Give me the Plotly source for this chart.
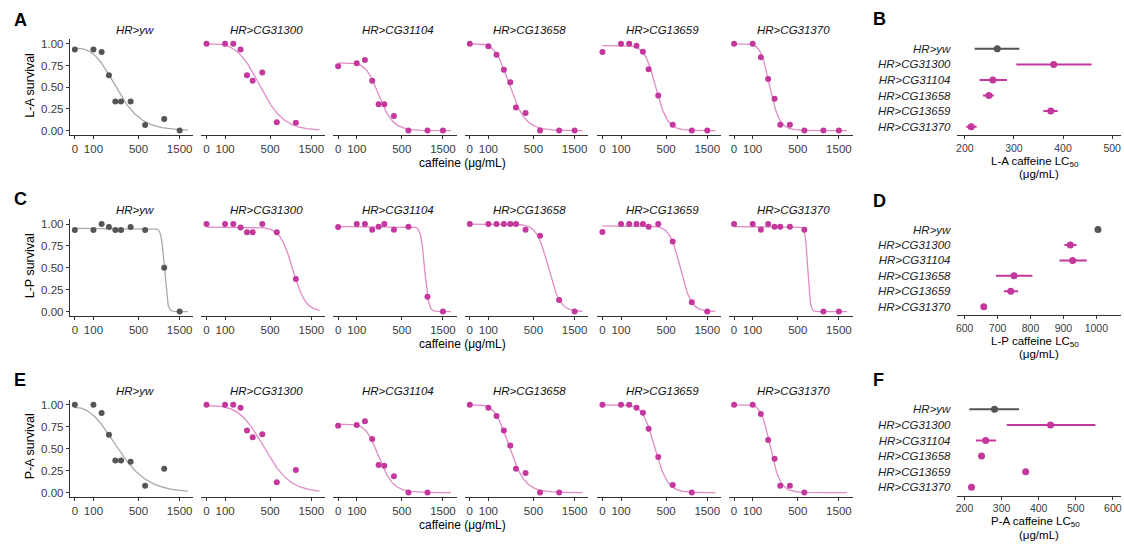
import numpy as np
import plotly.graph_objects as go

W, H = 1124, 548
FONT = "Liberation Sans"

# ---------------- data ----------------
doses = [0, 100, 150, 200, 250, 300, 400, 600, 1000, 1500]
genotypes = ["HR>yw", "HR>CG31300", "HR>CG31104", "HR>CG13658", "HR>CG13659", "HR>CG31370"]
assays = ["L-A", "L-P", "P-A"]

# survival fractions (None = no point shown)
la_surv = [
    [0.935, 0.935, 0.905, 0.637, 0.336, 0.336, 0.336, 0.065, 0.134, 0.0],
    [1.0, 1.0, 1.0, 0.935, 0.637, 0.573, 0.668, 0.095, 0.092, None],
    [0.74, 0.775, 0.813, 0.573, 0.305, 0.305, 0.168, 0.0, 0.0, 0.0],
    [1.0, 0.973, 0.874, 0.702, 0.557, 0.267, 0.202, 0.0, 0.0, 0.0],
    [0.905, 1.0, 1.0, 0.977, 0.908, 0.706, 0.405, 0.069, 0.0, 0.0],
    [1.0, 1.0, 0.844, 0.595, 0.366, 0.069, 0.069, 0.0, 0.0, 0.0],
]
lp_surv = [
    [0.932, 0.932, 1.0, 0.966, 0.932, 0.932, 0.966, 0.932, 0.5, 0.0],
    [1.0, 1.0, 1.0, 0.962, 0.905, 0.905, 1.0, 0.905, 0.371, None],
    [0.966, 1.0, 1.0, 0.936, 0.97, 1.0, 0.936, 0.97, 0.17, 0.0],
    [1.0, 1.0, 1.0, 1.0, 1.0, 1.0, 0.936, 0.867, 0.133, 0.0],
    [0.909, 1.0, 1.0, 1.0, 1.0, 0.97, 1.0, 0.8, 0.106, 0.0],
    [1.0, 1.0, 0.936, 1.0, 0.97, 0.97, 0.97, 0.936, 0.0, 0.0],
]
pa_surv = [
    [1.0, 1.0, 0.906, 0.66, 0.366, 0.366, 0.351, 0.079, 0.272, None],
    [1.0, 1.0, 1.0, 0.966, 0.706, 0.63, 0.664, 0.117, 0.257, None],
    [0.762, 0.77, 0.811, 0.611, 0.313, 0.306, 0.185, 0.0, 0.0, None],
    [1.0, 0.966, 0.872, 0.706, 0.536, 0.272, 0.223, 0.0, 0.0, None],
    [1.0, 1.0, 1.0, 0.966, 0.909, 0.728, 0.404, 0.087, 0.0, None],
    [1.0, 1.0, 0.894, 0.6, 0.385, 0.079, 0.079, 0.0, None, None],
]

# LC50 estimates with confidence limits (ug/mL)
la_lc50 = [266, 381, 257, 249, 375, 213]
la_lo = [220, 305, 230, 237, 360, 203]
la_hi = [311, 458, 286, 259, 389, 224]
lp_lc50 = [1005, 921, 928, 750, 740, 658]
lp_lo = [1000, 903, 888, 695, 719, 651]
lp_hi = [1010, 940, 971, 806, 762, 666]
pa_lc50 = [281, 432, 257, 246, 365, 219]
pa_lo = [213, 314, 231, 237, 360, 211]
pa_hi = [347, 553, 285, 255, 370, 227]

# fitted log-logistic curve parameters (upper asymptote, Hill slope)
la_top = [0.95, 1.0, 0.78, 1.0, 0.98, 1.0]
la_hill = [2.6, 3.0, 4.5, 4.0, 6.0, 6.0]
lp_top = [0.95, 0.965, 0.97, 1.0, 0.98, 0.97]
lp_hill = [25, 6.0, 20, 6.5, 7.0, 30]
pa_top = [0.97, 0.99, 0.78, 1.0, 1.0, 1.0]
pa_hill = [2.2, 2.8, 4.5, 4.0, 5.5, 6.0]

surv_all = [la_surv, lp_surv, pa_surv]
lc50_all = [la_lc50, lp_lc50, pa_lc50]
lo_all = [la_lo, lp_lo, pa_lo]
hi_all = [la_hi, lp_hi, pa_hi]
top_all = [la_top, lp_top, pa_top]
hill_all = [la_hill, lp_hill, pa_hill]

x_ticks = [0, 100, 500, 1500]
y_ticks = [0, 0.25, 0.5, 0.75, 1.0]
rb_ticks = [[200, 300, 400, 500], [600, 700, 800, 900, 1000], [200, 300, 400, 500, 600]]
rb_ranges = [[185, 518], [578, 1075], [181, 622]]

# ---------------- styling / layout ----------------
GRAY_PT = "#555555"
GRAY_LN = "#a9a9a9"
MAG_PT = "#c4379c"
MAG_LN = "#e08cc8"
AX = "#333333"
TICKC = "#3a3a3a"
TICKFS = 11.5


def tr(v):
    return np.arcsinh(np.asarray(v, dtype=float) / 200.0)


panel_x0 = [68, 200, 332, 464, 597, 729]
PW = 124
row_y = [(134.7, 37.8), (316.7, 219.0), (498.7, 400.7)]  # bottom, top (px)
right_y = [(135, 38.7), (316, 220.4), (497.5, 401.2)]
RX0, RX1 = 958, 1122

fig = go.Figure()
layout = dict(
    width=W, height=H, margin=dict(l=0, r=0, t=0, b=0),
    paper_bgcolor="white", plot_bgcolor="white", showlegend=False,
    font=dict(family=FONT, size=11, color="black"),
)
annotations = []


def pxx(p):
    return p / W


def pxy(p):
    return 1 - p / H


xc = np.linspace(0, 1850, 400)

for r in range(3):
    yb, yt = row_y[r]
    for c in range(6):
        k = r * 7 + c + 1
        xn = "x" if k == 1 else f"x{k}"
        yn = "y" if k == 1 else f"y{k}"
        is_ctrl = c == 0
        ptc = GRAY_PT if is_ctrl else MAG_PT
        lnc = GRAY_LN if is_ctrl else MAG_LN
        top, hill, lc = top_all[r][c], hill_all[r][c], lc50_all[r][c]
        yc = top / (1 + (xc / lc) ** hill)
        fig.add_trace(go.Scatter(x=tr(xc), y=yc, mode="lines",
                                 line=dict(color=lnc, width=1.3),
                                 xaxis=xn, yaxis=yn, hoverinfo="skip"))
        sv = surv_all[r][c]
        dx = [d for d, s in zip(doses, sv) if s is not None]
        dy = [s for s in sv if s is not None]
        fig.add_trace(go.Scatter(x=tr(dx), y=dy, mode="markers",
                                 marker=dict(color=ptc, size=6),
                                 xaxis=xn, yaxis=yn))
        x0 = panel_x0[c]
        layout[f"xaxis{k}"] = dict(
            domain=[pxx(x0), pxx(x0 + PW)], anchor=yn, range=[-0.13, 3.07],
            showline=True, linecolor=AX, linewidth=1.1, ticks="outside",
            ticklen=3, tickcolor=AX, tickwidth=1.1, showgrid=False, zeroline=False,
            tickvals=list(tr(x_ticks)), ticktext=[str(t) for t in x_ticks],
            tickfont=dict(family=FONT, size=TICKFS, color=TICKC),
        )
        ydict = dict(domain=[pxy(yb), pxy(yt)], anchor=xn, range=[-0.05, 1.06],
                     showgrid=False, zeroline=False)
        if is_ctrl:
            ydict.update(showline=True, linecolor=AX, linewidth=1.1, ticks="outside",
                         ticklen=3, tickcolor=AX, tickwidth=1.1,
                         tickvals=y_ticks, ticktext=[f"{t:.2f}" for t in y_ticks],
                         tickfont=dict(family=FONT, size=TICKFS, color=TICKC))
        else:
            ydict.update(showline=False, showticklabels=False, ticks="")
        layout[f"yaxis{k}"] = ydict
        # panel title
        annotations.append(dict(
            text=genotypes[c], x=pxx(x0 + PW / 2 + 3), y=pxy(yt - 8.5),
            xref="paper", yref="paper", showarrow=False, xanchor="center", yanchor="middle",
            font=dict(family=FONT, size=11.5, style="italic", weight="normal", color="#111111")))

    # y-axis title
    annotations.append(dict(
        text=f"{assays[r]} survival", x=pxx(28), y=pxy((yb + yt) / 2 - 2),
        xref="paper", yref="paper", showarrow=False, textangle=-90,
        xanchor="center", yanchor="middle", font=dict(family=FONT, size=12.5)))
    # x-axis title
    annotations.append(dict(
        text="caffeine (μg/mL)", x=pxx(461.5), y=pxy(yb + 28),
        xref="paper", yref="paper", showarrow=False,
        xanchor="center", yanchor="middle", font=dict(family=FONT, size=12)))

    # right LC50 panel
    k = r * 7 + 7
    xn, yn = f"x{k}", f"y{k}"
    ybr, ytr = right_y[r]
    ypos = [6, 5, 4, 3, 2, 1]
    for i in range(6):
        col = GRAY_PT if i == 0 else MAG_PT
        fig.add_trace(go.Scatter(x=[lo_all[r][i], hi_all[r][i]], y=[ypos[i], ypos[i]],
                                 mode="lines", line=dict(color=col, width=2),
                                 xaxis=xn, yaxis=yn, hoverinfo="skip"))
        fig.add_trace(go.Scatter(x=[lc50_all[r][i]], y=[ypos[i]], mode="markers",
                                 marker=dict(color=col, size=7),
                                 xaxis=xn, yaxis=yn))
    layout[f"xaxis{k}"] = dict(
        domain=[pxx(RX0), pxx(RX1)], anchor=yn, range=rb_ranges[r],
        showline=True, linecolor=AX, linewidth=1.1, ticks="outside",
        ticklen=3, tickcolor=AX, tickwidth=1.1, showgrid=False, zeroline=False,
        tickvals=rb_ticks[r], ticktext=[str(t) for t in rb_ticks[r]],
        tickfont=dict(family=FONT, size=10.5, color=TICKC))
    layout[f"yaxis{k}"] = dict(
        domain=[pxy(ybr), pxy(ytr)], anchor=xn, range=[0.45, 6.6],
        showline=False, ticks="", showgrid=False, zeroline=False,
        tickvals=ypos, ticktext=genotypes, ticklabelstandoff=6,
        tickfont=dict(family=FONT, size=11.5, style="italic", weight="normal", color="#222222"))
    annotations.append(dict(
        text=f"{assays[r]} caffeine LC<sub>50</sub>", x=pxx(1036), y=pxy(ybr + 26.5),
        xref="paper", yref="paper", showarrow=False,
        xanchor="center", yanchor="middle", font=dict(family=FONT, size=11.5)))
    annotations.append(dict(
        text="(μg/mL)", x=pxx(1040), y=pxy(ybr + 39),
        xref="paper", yref="paper", showarrow=False,
        xanchor="center", yanchor="middle", font=dict(family=FONT, size=11.5)))

# panel letters
letters = [("A", 18.5, 19), ("C", 18.5, 199), ("E", 18, 381.5),
           ("B", 880, 18.5), ("D", 880, 201), ("F", 879, 381.5)]
for t, x, y in letters:
    annotations.append(dict(text=t, x=pxx(x), y=pxy(y), xref="paper", yref="paper",
                            showarrow=False, xanchor="center", yanchor="middle",
                            font=dict(family=FONT, size=18, weight="bold", color="black")))

layout["annotations"] = annotations
fig.update_layout(**layout)
fig.write_html("out.html")
